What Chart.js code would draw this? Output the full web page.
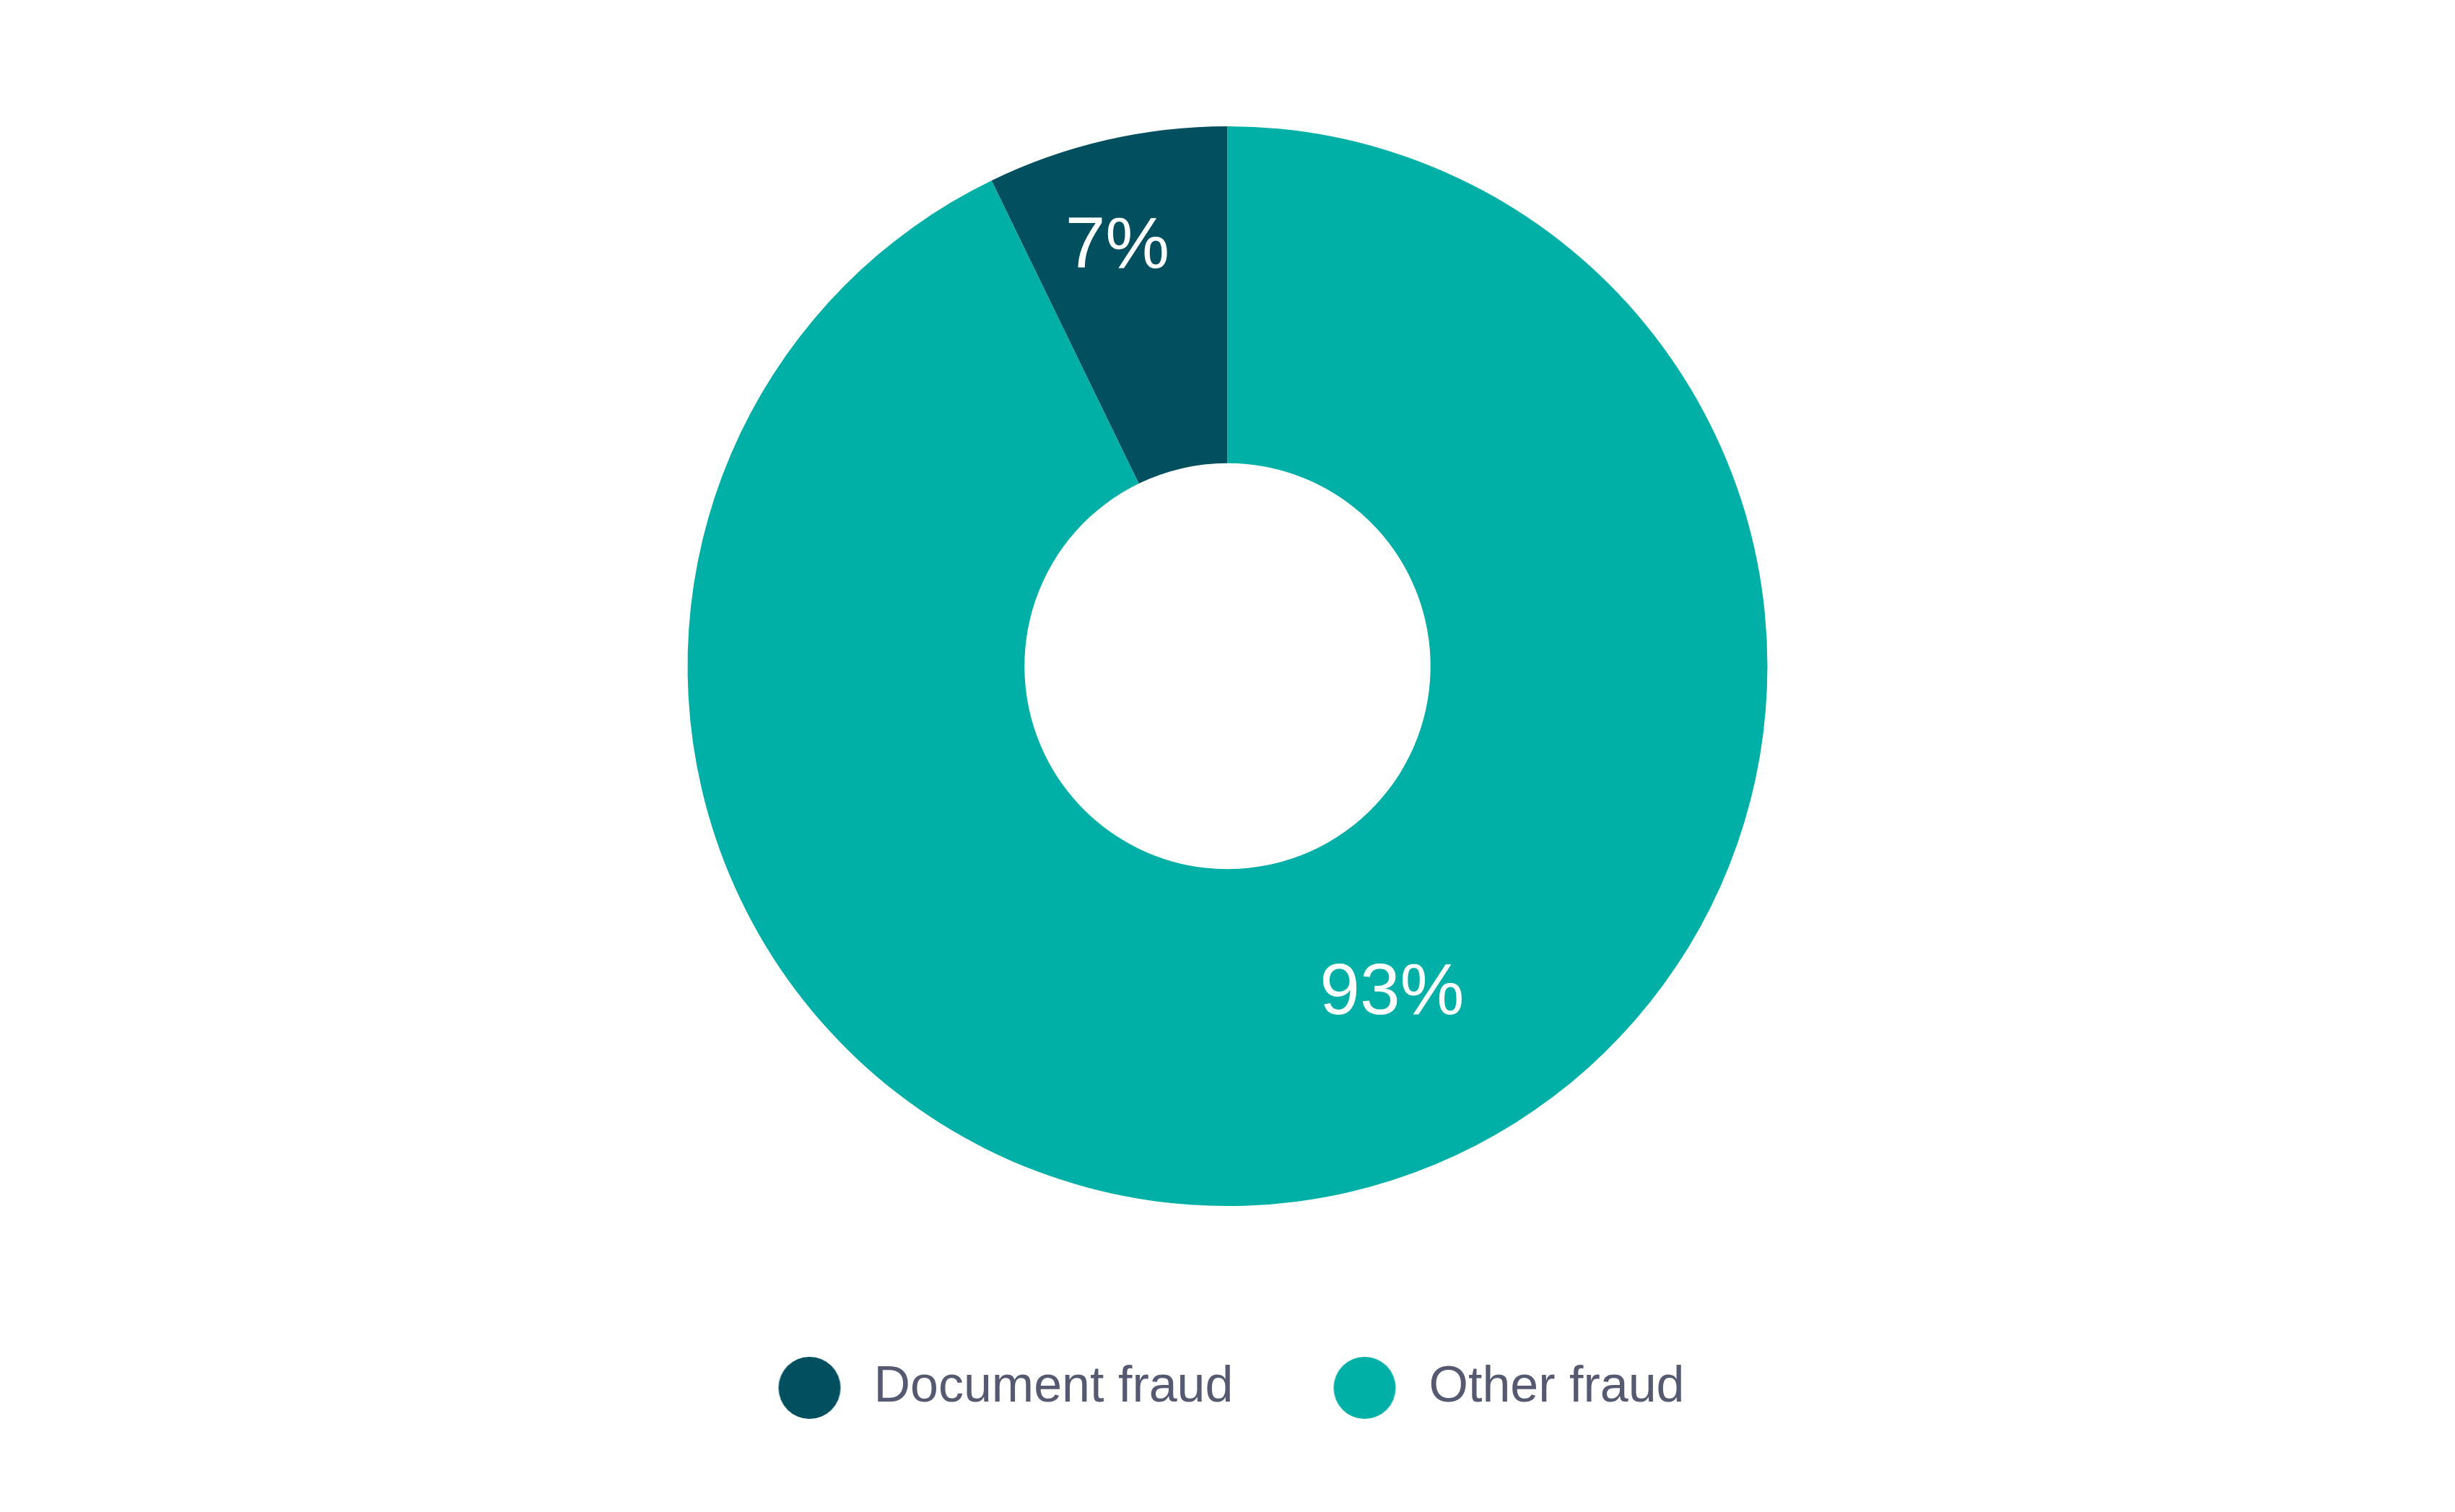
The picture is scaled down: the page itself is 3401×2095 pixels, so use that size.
<!DOCTYPE html>
<html>
<head>
<meta charset="utf-8">
<script src="https://cdn.jsdelivr.net/npm/chart.js@4/dist/chart.umd.min.js"></script>
<style>
  html, body { margin: 0; padding: 0; background: #ffffff; }
  #wrap { width: 3401px; height: 2095px; position: relative; }
</style>
</head>
<body>
<div id="wrap"><canvas id="c"></canvas></div>
<script>
const categories = ['Document fraud', 'Other fraud'];
const shareValues = [7.2, 92.8];
const sliceColors = ['#024f5f', '#00afa5'];
// where each value label sits inside its slice (fraction of angle / of ring thickness)
const labelAngleFrac = [0.437, 0.458];
const labelRadiusFrac = [0.695, 0.473];

const total = shareValues.reduce((a, b) => a + b, 0);
const valueLabels = shareValues.map(v => Math.round(v / total * 100) + '%');

function makeDot(color) {
  const c = document.createElement('canvas');
  c.width = 88; c.height = 88;
  const g = c.getContext('2d');
  g.fillStyle = color;
  g.beginPath();
  g.arc(44, 44, 43, 0, Math.PI * 2);
  g.fill();
  return c;
}

const valueLabelPlugin = {
  id: 'valueLabels',
  afterDatasetsDraw(chart) {
    const ctx = chart.ctx;
    const meta = chart.getDatasetMeta(0);
    meta.data.forEach((arc, i) => {
      const p = arc.getProps(['x', 'y', 'startAngle', 'endAngle', 'innerRadius', 'outerRadius'], true);
      const a = p.startAngle + (p.endAngle - p.startAngle) * labelAngleFrac[i];
      const r = p.innerRadius + (p.outerRadius - p.innerRadius) * labelRadiusFrac[i];
      ctx.save();
      ctx.fillStyle = '#ffffff';
      ctx.font = '100px "Liberation Sans", Arial, sans-serif';
      ctx.textAlign = 'center';
      ctx.textBaseline = 'middle';
      ctx.fillText(valueLabels[i], p.x + Math.cos(a) * r, p.y + Math.sin(a) * r + 7);
      ctx.restore();
    });
  }
};

new Chart(document.getElementById('c'), {
  type: 'doughnut',
  data: {
    labels: categories,
    datasets: [{
      data: shareValues,
      backgroundColor: sliceColors,
      borderWidth: 0,
      radius: 748,
      cutout: '37.6%'
    }]
  },
  options: {
    responsive: true,
    maintainAspectRatio: false,
    devicePixelRatio: 1,
    animation: false,
    rotation: -360 * shareValues[0] / total,
    layout: { padding: { top: 86, bottom: 127, left: 0, right: 0 } },
    plugins: {
      tooltip: { enabled: false },
      legend: {
        position: 'bottom',
        labels: {
          usePointStyle: true,
          pointStyleWidth: 108,
          boxHeight: 61,
          padding: 128,
          color: '#565a70',
          font: { family: '"Liberation Sans", Arial, sans-serif', size: 70 },
          generateLabels(chart) {
            const items = Chart.overrides.doughnut.plugins.legend.labels.generateLabels(chart);
            return items.map((it, i) => {
              it.pointStyle = makeDot(sliceColors[i]);
              it.fontColor = '#565a70';
              return it;
            });
          }
        }
      }
    }
  },
  plugins: [valueLabelPlugin]
});
</script>
</body>
</html>
